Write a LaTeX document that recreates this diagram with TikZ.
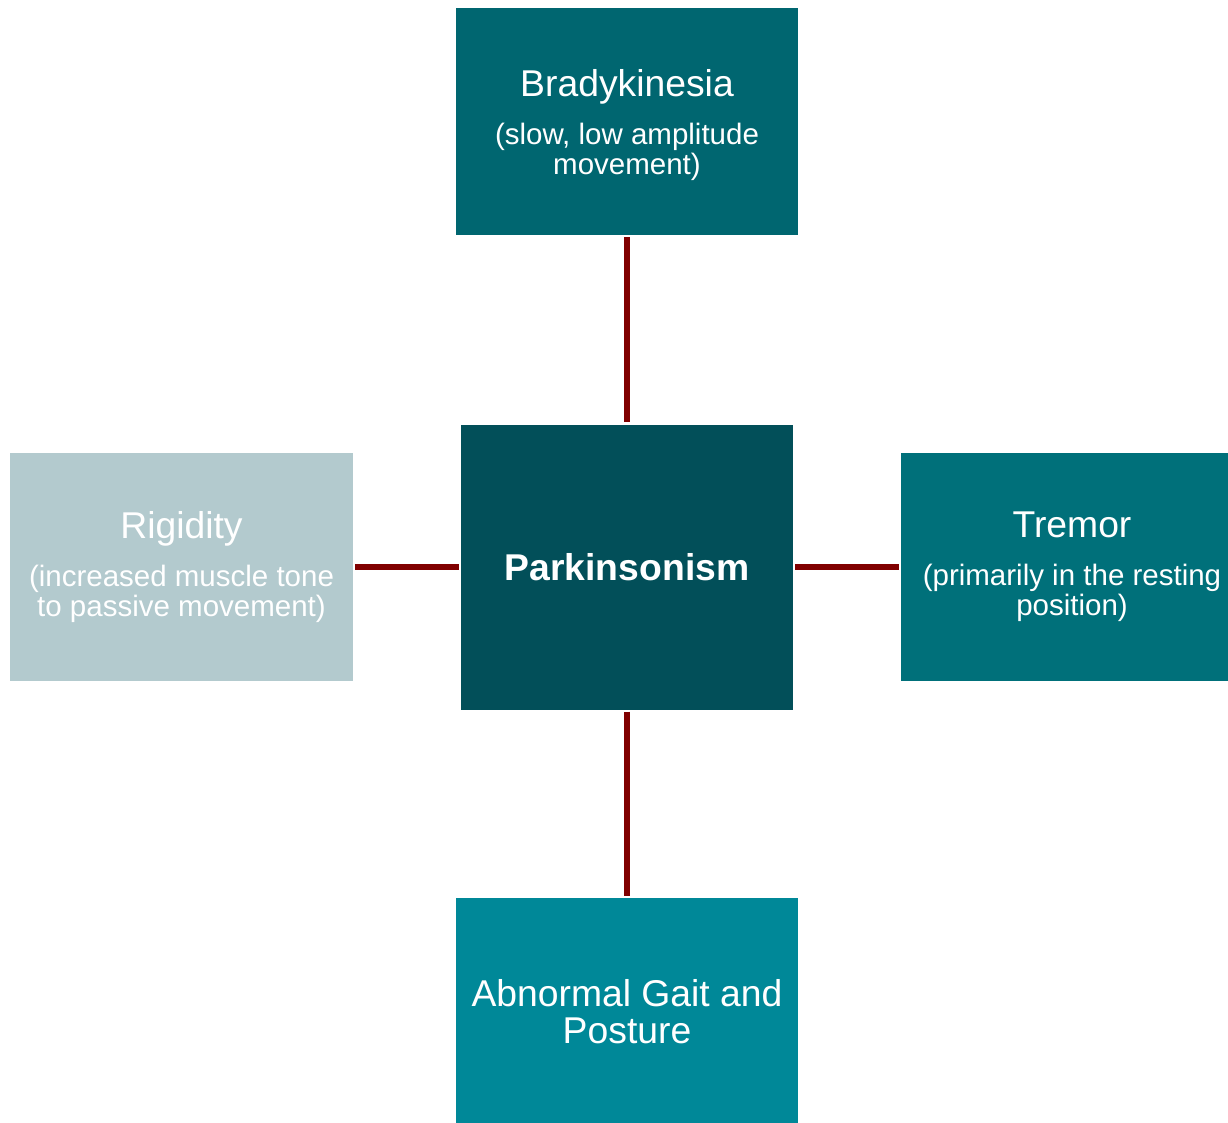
\documentclass[tikz,border=0pt]{standalone}
\usepackage{fontspec}
\setmainfont{Liberation Sans}
\definecolor{cBrady}{HTML}{006670}
\definecolor{cRigid}{HTML}{B3CACE}
\definecolor{cTremor}{HTML}{00707A}
\definecolor{cAbn}{HTML}{008898}
\definecolor{cCenter}{HTML}{024F59}
\definecolor{cLink}{HTML}{800000}
\newcommand{\titlefont}{\fontsize{37.3}{30}\selectfont}
\newcommand{\subfont}{\fontsize{29.5}{30}\selectfont}
\tikzset{
  sbox/.style={rectangle, inner sep=0pt, minimum width=342pt, minimum height=227pt,
    text=white, align=center, font=\subfont},
  link/.style={draw=cLink, line width=6pt, shorten <=2pt, shorten >=2pt}
}
\begin{document}
\begin{tikzpicture}[x=1pt,y=-1pt]
\useasboundingbox (0,0) rectangle (1228,1122);
\node[sbox, fill=cCenter, minimum width=332pt, minimum height=285pt,
  font=\fontsize{37.3}{30}\selectfont\bfseries] (center) at (627,567) {Parkinsonism};
\node[sbox, fill=cBrady, text depth=0pt] (brady) at (627,121.5)
  {{\titlefont Bradykinesia}\\[18pt](slow, low amplitude\\movement)};
\node[sbox, fill=cRigid, minimum width=343pt, minimum height=228pt] (rigid) at (181.5,567)
  {{\titlefont Rigidity}\\[18pt](increased muscle tone\\to passive movement)};
\node[sbox, fill=cTremor, minimum height=228pt] (tremor) at (1072,567)
  {{\titlefont Tremor}\\[18pt](primarily in the resting\\position)};
\node[sbox, fill=cAbn, font=\fontsize{37.3}{37}\selectfont] (abn) at (627,1011.5)
  {Abnormal Gait and\\Posture};
\draw[link] (brady.south) -- (center.north);
\draw[link] (center.south) -- (abn.north);
\draw[link] (rigid.east) -- (center.west);
\draw[link] (center.east) -- (tremor.west);
\end{tikzpicture}
\end{document}
